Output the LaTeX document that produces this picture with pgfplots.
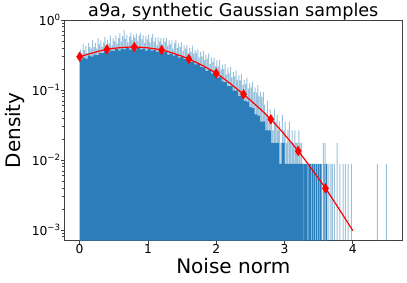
\documentclass[border=0pt]{standalone}
\usepackage{pgfplots}
\pgfplotsset{compat=1.18}
\usepackage{fontspec}
\setmainfont{DejaVu Sans}
\definecolor{body}{RGB}{44,126,186}
\definecolor{cz}{RGB}{31,119,180}
\begin{document}
\begin{tikzpicture}
\begin{axis}[
 at={(0,0)}, anchor=south west,
 scale only axis, width=338pt, height=220.7pt,
 ymode=log, log origin y=infty,
 xmin=-0.225, xmax=4.725, ymin=7.03e-4, ymax=1,
 xtick={0,1,2,3,4},
 ytick={1e-3,1e-2,1e-1,1},
 yticklabels={10\textsuperscript{−3},10\textsuperscript{−2},10\textsuperscript{−1},10\textsuperscript{0}},
 minor ytick={8e-4,9e-4,2e-3,3e-3,4e-3,5e-3,6e-3,7e-3,8e-3,9e-3,2e-2,3e-2,4e-2,5e-2,6e-2,7e-2,8e-2,9e-2,0.2,0.3,0.4,0.5,0.6,0.7,0.8,0.9},
 tick align=outside, xtick pos=left, ytick pos=left,
 major tick length=3.5pt, minor tick length=2pt,
 axis line style={black!75, line width=0.6pt},
 every tick/.style={black!75, line width=0.6pt},
 tick label style={font=\fontsize{12.3}{14}\selectfont},
 /pgf/number format/assume math mode=true,
 xticklabel style={inner sep=0pt, anchor=north},
 yticklabel style={inner sep=0pt, anchor=east},
 every axis title shift=0pt,
 title={a9a, synthetic Gaussian samples},
 title style={font=\fontsize{17.6}{20}\selectfont, at={(axis description cs:0.5,1.0181)}, anchor=base, inner sep=0pt},
 xlabel={Noise norm},
 xlabel style={font=\fontsize{20}{24}\selectfont, at={(axis description cs:0.5,-0.1495)}, anchor=base, inner sep=0pt},
 ylabel={Density},
 ylabel style={font=\fontsize{20}{24}\selectfont, at={(axis description cs:-0.131,0.5)}, anchor=base, inner sep=0pt},
]
% light histogram spikes
\addplot[ybar, bar width=1pt, bar shift=0pt, fill=cz, fill opacity=0.45, draw=none] coordinates {
(0.01,0.38)(0.03,0.33)(0.05,0.46)(0.07,0.37)(0.09,0.43)(0.11,0.34)(0.13,0.47)(0.15,0.41)(0.17,0.39)(0.19,0.51)
(0.21,0.41)(0.23,0.47)(0.25,0.39)(0.27,0.55)(0.29,0.45)(0.31,0.51)(0.33,0.41)(0.35,0.48)(0.37,0.57)(0.39,0.44)
(0.41,0.52)(0.43,0.46)(0.45,0.60)(0.47,0.43)(0.49,0.55)(0.51,0.50)(0.53,0.60)(0.55,0.46)(0.57,0.55)(0.59,0.65)
(0.61,0.49)(0.63,0.59)(0.65,0.72)(0.67,0.54)(0.69,0.62)(0.71,0.48)(0.73,0.58)(0.75,0.66)(0.77,0.52)(0.79,0.62)
(0.81,0.56)(0.83,0.64)(0.85,0.50)(0.87,0.60)(0.89,0.66)(0.91,0.53)(0.93,0.61)(0.95,0.47)(0.97,0.59)(0.99,0.53)
(1.01,0.62)(1.03,0.48)(1.05,0.56)(1.07,0.63)(1.09,0.49)(1.11,0.56)(1.13,0.44)(1.15,0.57)(1.17,0.49)(1.19,0.55)
(1.21,0.45)(1.23,0.55)(1.25,0.49)(1.27,0.56)(1.29,0.43)(1.31,0.51)(1.33,0.45)(1.35,0.51)(1.37,0.39)(1.39,0.47)
(1.41,0.52)(1.43,0.40)(1.45,0.46)(1.47,0.41)(1.49,0.48)(1.51,0.36)(1.53,0.43)(1.55,0.39)(1.57,0.44)(1.59,0.34)
(1.61,0.40)(1.63,0.35)(1.65,0.43)(1.67,0.33)(1.69,0.37)(1.71,0.34)(1.73,0.38)(1.75,0.29)(1.77,0.35)(1.79,0.30)
(1.81,0.36)(1.83,0.27)(1.85,0.32)(1.87,0.28)(1.89,0.33)(1.91,0.235)(1.93,0.29)(1.95,0.25)(1.97,0.29)(1.99,0.22)
(2.01,0.265)(2.03,0.216)(2.05,0.27)(2.07,0.196)(2.09,0.228)(2.11,0.198)(2.13,0.236)(2.15,0.166)(2.17,0.208)(2.19,0.174)
(2.21,0.213)(2.23,0.151)(2.25,0.181)(2.27,0.158)(2.29,0.191)(2.31,0.137)(2.33,0.162)(2.35,0.137)(2.37,0.17)(2.39,0.118)
(2.41,0.14)(2.43,0.122)(2.45,0.15)(2.47,0.105)(2.49,0.124)(2.51,0.108)(2.53,0.131)(2.55,0.093)(2.57,0.108)(2.59,0.0915)
(2.61,0.117)(2.63,0.081)(2.65,0.094)(2.67,0.0795)(2.69,0.093)(2.71,0.0617)(2.73,0.0441)(2.75,0.0706)(2.77,0.0353)(2.79,0.0529)
(2.81,0.0441)(2.83,0.0265)(2.85,0.0529)(2.87,0.0353)(2.89,0.0441)(2.91,0.0265)(2.93,0.0353)(2.95,0.0176)(2.97,0.0441)(2.99,0.0265)
(3.01,0.0353)(3.03,0.0176)(3.05,0.0265)(3.07,0.0353)(3.09,0.0176)(3.11,0.0265)(3.13,0.0176)(3.15,0.0265)(3.17,0.0176)(3.19,0.0176)
(3.21,0.0265)(3.23,0.0176)(3.25,0.0176)(3.27,0.0088)
(3.345,0.0088)(3.39,0.0088)(3.425,0.0088)(3.455,0.0088)(3.485,0.0088)(3.515,0.0088)(3.545,0.0088)(3.57,0.0176)(3.595,0.0176)
(3.625,0.0088)(3.65,0.0088)(3.68,0.0088)(3.70,0.0088)(3.73,0.0088)(3.77,0.0176)(3.81,0.0088)(3.86,0.0088)(3.89,0.0088)
(3.93,0.0088)(3.98,0.0088)(4.36,0.0088)(4.49,0.0088)
};
% dark tail spikes
\addplot[ybar, bar width=1.2pt, bar shift=0pt, fill=body, draw=none] coordinates {
(3.29,0.0088)(3.31,0.0088)(3.33,0.0088)(3.36,0.0088)(3.38,0.0088)(3.41,0.0088)(3.44,0.0088)(3.47,0.0088)
(3.50,0.0088)(3.53,0.0088)(3.58,0.0088)(3.61,0.0088)
};
% histogram body
\addplot[ybar interval, fill=body, draw=none] coordinates {
(0,0.27)(0.04,0.29)(0.08,0.28)(0.12,0.31)(0.16,0.30)(0.20,0.32)(0.24,0.315)(0.28,0.34)(0.32,0.335)(0.36,0.36)
(0.40,0.345)(0.44,0.365)(0.48,0.36)(0.52,0.385)(0.56,0.365)(0.60,0.39)(0.64,0.38)(0.68,0.40)(0.72,0.375)(0.76,0.395)
(0.80,0.375)(0.84,0.40)(0.88,0.38)(0.92,0.39)(0.96,0.365)(1.00,0.385)(1.04,0.365)(1.08,0.375)(1.12,0.35)(1.16,0.365)
(1.20,0.345)(1.24,0.35)(1.28,0.32)(1.32,0.33)(1.36,0.31)(1.40,0.32)(1.44,0.29)(1.48,0.295)(1.52,0.275)(1.56,0.28)
(1.60,0.25)(1.64,0.255)(1.68,0.232)(1.72,0.235)(1.76,0.212)(1.80,0.21)(1.84,0.188)(1.88,0.192)(1.92,0.171)(1.96,0.17)
(2.00,0.15)(2.04,0.151)(2.08,0.132)(2.12,0.13)(2.16,0.114)(2.20,0.114)(2.24,0.098)(2.28,0.098)(2.32,0.082)(2.36,0.083)
(2.40,0.07)(2.44,0.068)(2.48,0.057)(2.52,0.055)(2.56,0.045)(2.60,0.043)(2.64,0.0353)(2.68,0.0353)(2.72,0.0265)(2.76,0.0265)
(2.80,0.0176)(2.84,0.0176)(2.88,0.0176)(2.92,0.0088)(2.96,0.0176)(3.00,0.0088)(3.04,0.0088)(3.08,0.0088)(3.12,0.0088)(3.16,0.0088)
(3.20,0.0088)(3.24,0.0088)(3.28,0.0088)
};
% fitted density
\addplot[red, line width=1.2pt, smooth, mark=none] coordinates {
(0,0.299)(0.4,0.381)(0.8,0.411)(1.2,0.373)(1.6,0.277)(2.0,0.173)(2.4,0.0867)(2.8,0.0381)(3.2,0.01345)(3.6,0.00394)(4.0,0.00098)
};
\addplot[only marks, mark=diamond*, mark size=4.8pt, red, mark options={xscale=0.85, fill=red, draw=red}] coordinates {
(0,0.299)(0.4,0.381)(0.8,0.411)(1.2,0.373)(1.6,0.277)(2.0,0.173)(2.4,0.0867)(2.8,0.0381)(3.2,0.01345)(3.6,0.00394)
};
\end{axis}
\pgfresetboundingbox
\path[use as bounding box] (-64.3pt,-41.3pt) rectangle (342.7pt,240.7pt);
\end{tikzpicture}
\end{document}
